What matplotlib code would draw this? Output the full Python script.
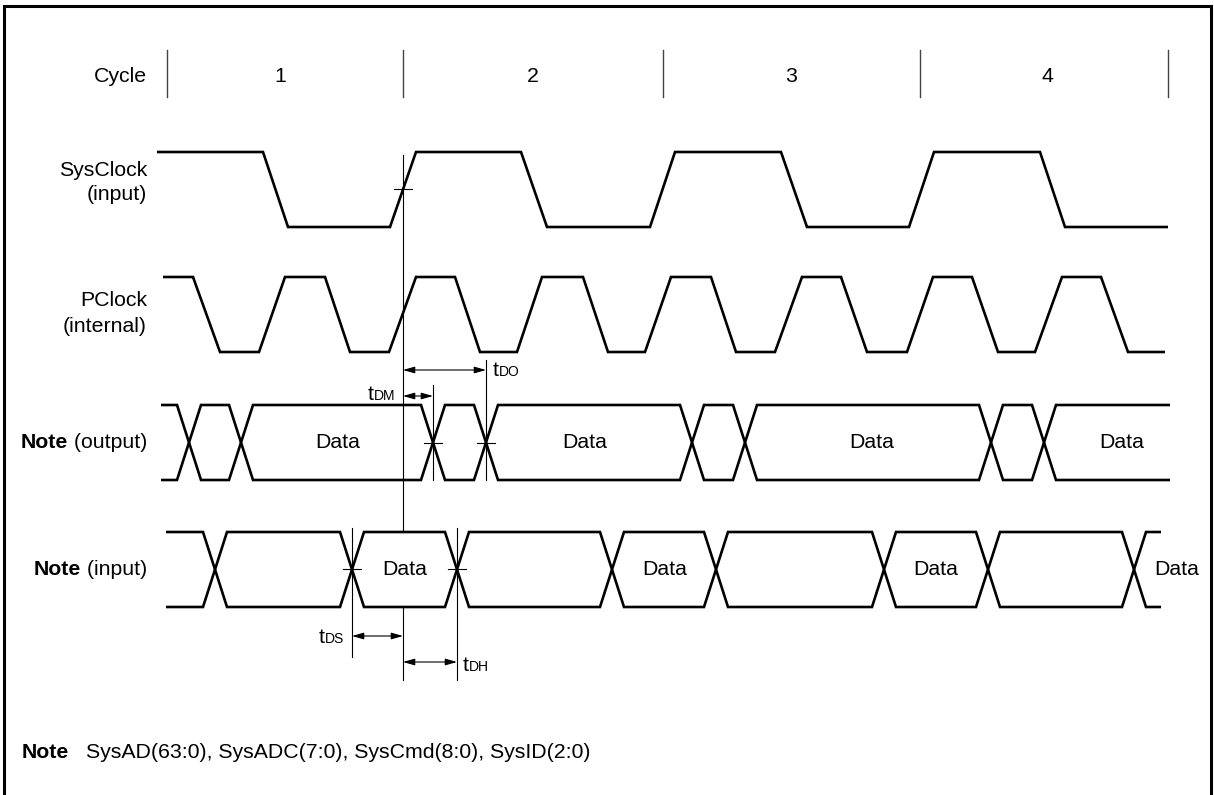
import matplotlib
matplotlib.use('Agg')
import matplotlib.pyplot as plt

plt.rcParams['font.family'] = ['Liberation Sans', 'DejaVu Sans']

W, H = 1214, 795
FS = 15.3    # main text size
FS_SUB = 10  # subscript letters of the timing names

# cycle header
cycle_bounds = [167, 403, 663, 920, 1168]
cycle_names = ['1', '2', '3', '4']
cycle_label_x = [280, 533, 791, 1047]

# clocks: corner positions and levels (1 = high, 0 = low)
sys_x = [157, 263, 288, 390, 416, 521, 547, 650, 675, 781, 807, 909, 934, 1040, 1065, 1168]
sys_lvl = [1, 1, 0, 0, 1, 1, 0, 0, 1, 1, 0, 0, 1, 1, 0, 0]
pclk_x = [163, 193, 220, 259, 285, 325, 350, 389, 416, 455, 480, 517, 542, 583, 608, 645,
          671, 711, 736, 775, 802, 841, 867, 907, 933, 972, 998, 1035, 1062, 1101, 1128, 1165]
pclk_lvl = [1, 1, 0, 0] * 8

# buses: start, end, crossing centres, where "Data" is written
out_span = (161, 1170)
out_cross = [189, 241, 433, 486, 692, 745, 991, 1044]
out_data_x = [338, 585, 872, 1122]
in_span = (166, 1161)
in_cross = [215, 352, 457, 612, 716, 884, 988, 1134]
in_data_x = [405, 665, 936, 1177]
half_w = 12

# (high y, low y) of each row
row_sys = (152, 227)
row_pclk = (277, 352)
row_out = (405, 480)
row_in = (532, 607)

# timing marks
cross_marks = [(403, 189), (433, 443), (486, 443), (352, 569), (457, 569)]
guide_lines = [(403, 155, 532), (403, 607, 680), (433, 385, 480), (486, 360, 480),
               (352, 528, 657), (457, 528, 680)]
# name, x from, x to, y, label x, label baseline, alignment
timings = [('DO', 403, 486, 370, 493, 376, 'left'),
           ('DM', 403, 433, 396, 395, 400, 'right'),
           ('DS', 352, 403, 636, 344, 643, 'right'),
           ('DH', 403, 457, 662, 463, 671, 'left')]

fig = plt.figure(figsize=(W / 100, H / 100), dpi=100)
ax = fig.add_axes([0, 0, 1, 1])
ax.set_xlim(0, W)
ax.set_ylim(H, 0)
ax.axis('off')
renderer = fig.canvas.get_renderer()

LW = 1.9
SIG = dict(color='black', lw=LW, solid_joinstyle='miter', solid_capstyle='butt')
THIN = dict(color='black', lw=0.8)


def text_run(parts, x, y, ha='left', va='center'):
    # parts: list of (string, size, weight); drawn one after another
    objs = [ax.text(0, y, s, fontsize=sz, fontweight=wt, va=va, ha='left') for s, sz, wt in parts]
    widths = [o.get_window_extent(renderer).width for o in objs]
    pos = x - sum(widths) if ha == 'right' else x
    for o, w in zip(objs, widths):
        o.set_x(pos)
        pos += w


def clock(xs, lvls, row):
    hi, lo = row
    ax.plot(xs, [hi if v else lo for v in lvls], **SIG)


def bus(span, crosses, row):
    hi, lo = row
    for first, other in ((hi, lo), (lo, hi)):
        px, py = [span[0]], [first]
        cur, nxt = first, other
        for c in crosses:
            px += [c - half_w, c + half_w]
            py += [cur, nxt]
            cur, nxt = nxt, cur
        px.append(span[1])
        py.append(cur)
        ax.plot(px, py, **SIG)


# border
ax.plot([4, 4, 1211, 1211], [H, 6, 6, H], color='black', lw=2.2, solid_joinstyle='miter')

# cycle header
for cx in cycle_bounds:
    ax.plot([cx, cx], [50, 97], color='#444444', lw=1.0)
for name, lx in zip(cycle_names, cycle_label_x):
    ax.text(lx, 76, name, fontsize=FS, ha='center', va='center')
ax.text(147, 77, 'Cycle', fontsize=FS, ha='right', va='center')

# signal names
ax.text(147, 171, 'SysClock', fontsize=FS, ha='right', va='center')
ax.text(147, 195, '(input)', fontsize=FS, ha='right', va='center')
ax.text(147, 301, 'PClock', fontsize=FS, ha='right', va='center')
ax.text(147, 326, '(internal)', fontsize=FS, ha='right', va='center')
text_run([('Note', FS, 'bold'), (' (output)', FS, 'normal')], 147, sum(row_out) / 2, ha='right')
text_run([('Note', FS, 'bold'), (' (input)', FS, 'normal')], 147, sum(row_in) / 2, ha='right')

# waveforms
clock(sys_x, sys_lvl, row_sys)
clock(pclk_x, pclk_lvl, row_pclk)
bus(out_span, out_cross, row_out)
bus(in_span, in_cross, row_in)
for dx in out_data_x:
    ax.text(dx, sum(row_out) / 2, 'Data', fontsize=FS, ha='center', va='center')
for dx in in_data_x:
    ax.text(dx, sum(row_in) / 2, 'Data', fontsize=FS, ha='center', va='center')

# timing guides
for gx, y0, y1 in guide_lines:
    ax.plot([gx, gx], [y0, y1], **THIN)
for mx, my in cross_marks:
    ax.plot([mx - 9, mx + 9], [my, my], **THIN)
for name, x0, x1, ay, lx, ly, ha in timings:
    ax.annotate('', xy=(x1, ay), xytext=(x0, ay),
                arrowprops=dict(arrowstyle='<|-|>,head_length=0.7,head_width=0.2',
                                color='black', lw=0.8, shrinkA=0, shrinkB=0,
                                mutation_scale=10))
    text_run([('t', FS, 'normal'), (name, FS_SUB, 'normal')], lx, ly, ha=ha, va='baseline')

# footnote
ax.text(22, 753, 'Note', fontsize=FS, fontweight='bold', ha='left', va='center')
ax.text(86, 753, 'SysAD(63:0), SysADC(7:0), SysCmd(8:0), SysID(2:0)', fontsize=FS,
        ha='left', va='center')

fig.savefig('out.png', dpi=100)
